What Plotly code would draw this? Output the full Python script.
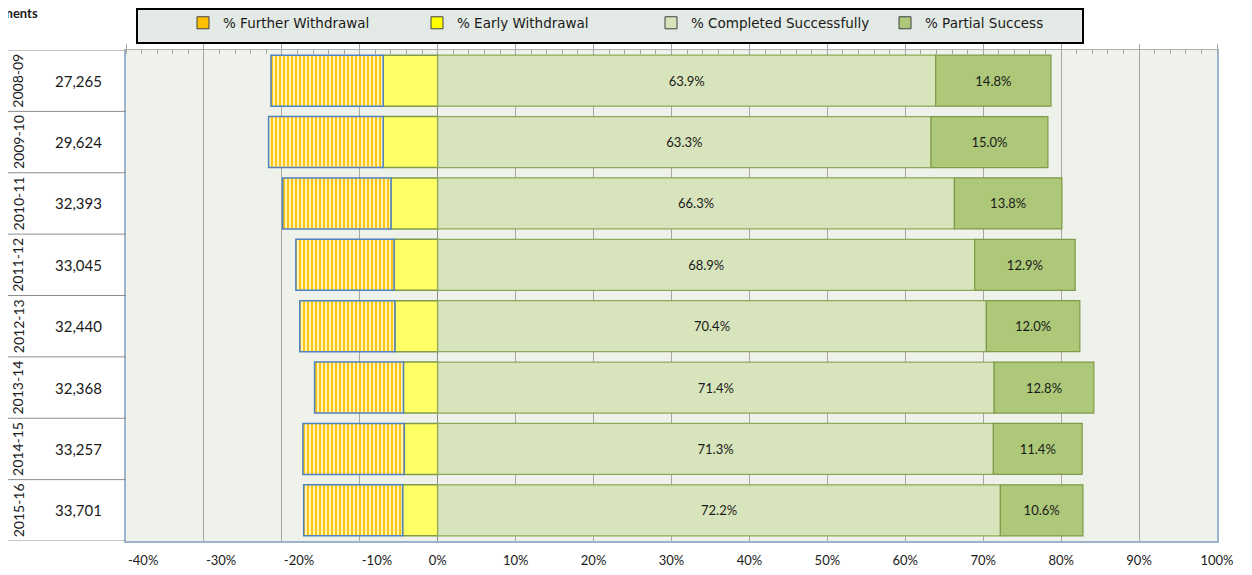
import plotly.graph_objects as go

# ---------------- data ----------------
years = ["2008-09", "2009-10", "2010-11", "2011-12", "2012-13", "2013-14", "2014-15", "2015-16"]
students = ["27,265", "29,624", "32,393", "33,045", "32,440", "32,368", "33,257", "33,701"]
early_withdrawal = [7.0, 7.0, 6.0, 5.6, 5.5, 4.4, 4.3, 4.5]
further_withdrawal = [14.4, 14.7, 13.9, 12.6, 12.2, 11.4, 13.0, 12.7]
completed = [63.9, 63.3, 66.3, 68.9, 70.4, 71.4, 71.3, 72.2]
partial = [14.8, 15.0, 13.8, 12.9, 12.0, 12.8, 11.4, 10.6]
tick_vals = [-40, -30, -20, -10, 0, 10, 20, 30, 40, 50, 60, 70, 80, 90, 100]
tick_text = [f"{v}%" for v in tick_vals]
header_text = "Enrolments"

# ---------------- style ----------------
FONT = "Lato"
LEG_FONT = "DejaVu Sans"
BODY = 8  # default page margin around the figure div
W, H = 1252 - 2 * BODY, 575 - 2 * BODY
# plot area in page pixels: x 126..1217, y 50..541
ML = 126 - BODY
MT = 50 - BODY
MR = W - (1217 - BODY)
MB = H - (541 - BODY)
PW, PH = W - ML - MR, H - MT - MB
NEG_LABEL_SHIFT = 2.2  # negative tick labels sit slightly right of their gridlines


def px_x(page_px):
    return (page_px - BODY - ML) / PW


def px_y(page_py):
    return (H - MB - (page_py - BODY)) / PH


c_further = "#FFC000"
c_early = "#FFFF66"
c_completed = "#D8E4BC"
c_partial = "#ADC878"
TXT = "#1a1a1a"

fig = go.Figure()

fig.add_trace(go.Bar(
    y=years, x=[-v for v in early_withdrawal], orientation="h", name="% Early Withdrawal",
    marker=dict(color=c_early, line=dict(color="#7F9A48", width=1.5)),
    showlegend=False, hoverinfo="skip"))
fig.add_trace(go.Bar(
    y=years, x=[-v for v in further_withdrawal], orientation="h", name="% Further Withdrawal",
    marker=dict(color="#FFF0A8", line=dict(color="#4F81BD", width=1.5),
                pattern=dict(shape="|", fgcolor=c_further, bgcolor="#FFF3B8",
                             size=4, solidity=0.45, fillmode="replace")),
    showlegend=False, hoverinfo="skip"))
fig.add_trace(go.Bar(
    y=years, x=completed, orientation="h", name="% Completed Successfully",
    marker=dict(color=c_completed, line=dict(color="#8EA85A", width=1.2)),
    text=[f"{v:.1f}%" for v in completed], textposition="inside",
    insidetextanchor="middle", textfont=dict(color=TXT, size=13, family=FONT),
    showlegend=False, hoverinfo="skip"))
fig.add_trace(go.Bar(
    y=years, x=partial, orientation="h", name="% Partial Success",
    marker=dict(color=c_partial, line=dict(color="#7F9A48", width=1.2)),
    text=[f"{v:.1f}%" for v in partial], textposition="inside",
    insidetextanchor="middle", textfont=dict(color=TXT, size=13, family=FONT),
    showlegend=False, hoverinfo="skip"))

# legend-only entries (solid swatches)
for name, col in [("% Further Withdrawal", c_further), ("% Early Withdrawal", "#FFFF00"),
                  ("% Completed Successfully", c_completed), ("% Partial Success", c_partial)]:
    fig.add_trace(go.Bar(y=[years[0]], x=[None], orientation="h", name=name,
                         marker=dict(color=col, line=dict(color="#404040", width=1)),
                         showlegend=True, hoverinfo="skip"))

# ---------------- left table ----------------
annotations = []
for yr, n in zip(years, students):
    annotations.append(dict(x=px_x(18), y=yr, xref="paper", yref="y", text=yr, textangle=-90,
                            showarrow=False, font=dict(family=FONT, size=14, color=TXT),
                            xanchor="center", yanchor="middle"))
    annotations.append(dict(x=px_x(78), y=yr, xref="paper", yref="y", text=n,
                            showarrow=False, font=dict(family=FONT, size=15, color=TXT),
                            xanchor="center", yanchor="middle"))
annotations.append(dict(x=px_x(40), y=px_y(13), xref="paper", yref="paper", text="<b>" + header_text + "</b>",
                        showarrow=False, font=dict(family=FONT, size=13, color=TXT),
                        xanchor="right", yanchor="middle"))

shapes = []
for k in range(len(years) + 1):
    shapes.append(dict(type="line", xref="paper", yref="y", x0=px_x(8), x1=0,
                       y0=k - 0.5, y1=k - 0.5, line=dict(color="#8c8c8c", width=1)))
# legend box
shapes.append(dict(type="rect", xref="paper", yref="paper", x0=px_x(137), x1=px_x(1083),
                   y0=px_y(43), y1=px_y(9), fillcolor="#E3E9E4", line=dict(color="black", width=2),
                   layer="below"))

fig.update_layout(
    width=W, height=H,
    margin=dict(l=ML, r=MR, t=MT, b=MB, autoexpand=False),
    barmode="relative", bargap=0.17,
    paper_bgcolor="white", plot_bgcolor="#EFF2EA",
    font=dict(family=FONT, size=13, color=TXT),
    annotations=annotations, shapes=shapes,
    legend=dict(orientation="h", x=px_x(183), y=px_y(23), xanchor="left", yanchor="middle",
                bgcolor="rgba(0,0,0,0)", borderwidth=0, entrywidth=189, entrywidthmode="pixels",
                font=dict(family=LEG_FONT, size=13.5, color=TXT), traceorder="normal"),
    xaxis=dict(range=[-40, 100], tickvals=tick_vals, showticklabels=False, ticks="",
               showgrid=True, gridcolor="#A6A6A6", gridwidth=1, automargin=False,
               zeroline=True, zerolinecolor="#8a8a8a", zerolinewidth=1,
               showline=True, linecolor="#9DB3CE", linewidth=1.5),
    xaxis2=dict(range=[-40, 100], overlaying="x", side="top", showticklabels=False,
                tickvals=tick_vals, ticks="outside", ticklen=5, tickcolor="#A6A6A6", automargin=False,
                minor=dict(dtick=2, ticks="inside", ticklen=4, tickcolor="#A6A6A6"),
                showgrid=False, zeroline=False, showline=True, linecolor="#B0B0B0", linewidth=1),
    xaxis3=dict(range=[-40, 100], overlaying="x", side="bottom", showgrid=False, zeroline=False,
                tickvals=[v + NEG_LABEL_SHIFT if v < 0 else v for v in tick_vals], ticktext=tick_text,
                automargin=False, ticks="", tickfont=dict(family=FONT, size=13, color=TXT),
                ticklabelstandoff=10),
    yaxis=dict(type="category", categoryorder="array", categoryarray=years,
               range=[len(years) - 0.5, -0.5], autorange=False, automargin=False,
               showticklabels=False, ticks="", showgrid=False,
               showline=True, linecolor="#9DB3CE", linewidth=1.5, mirror=True),
)

# dummy traces to activate overlay axes
fig.add_trace(go.Scatter(x=[None], y=[years[0]], xaxis="x2", mode="markers",
                         showlegend=False, hoverinfo="skip"))
fig.add_trace(go.Scatter(x=[None], y=[years[0]], xaxis="x3", mode="markers",
                         showlegend=False, hoverinfo="skip"))

fig.write_html("out.html")
